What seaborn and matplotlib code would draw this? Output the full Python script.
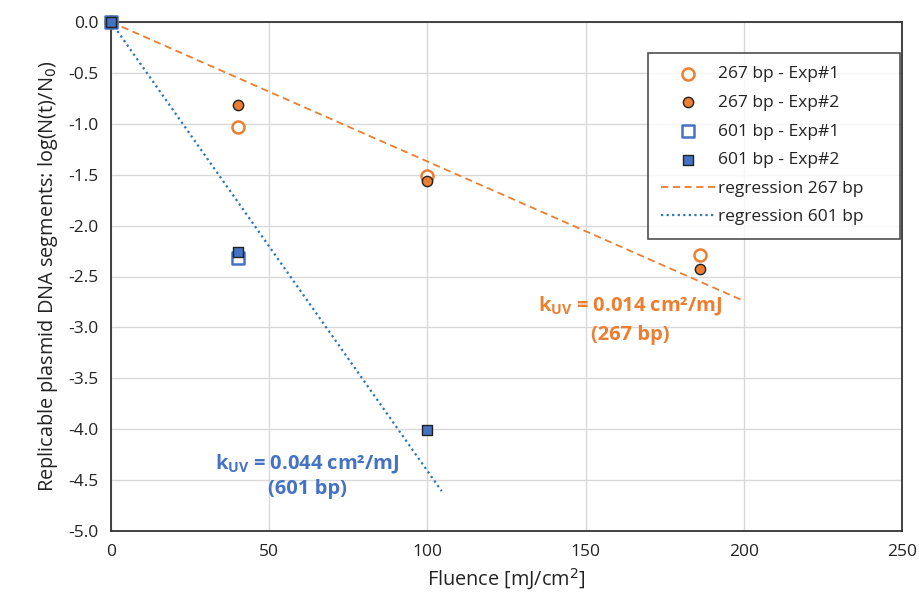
import numpy as np
import pandas as pd
import matplotlib
matplotlib.use("Agg")
import matplotlib.pyplot as plt
import seaborn as sns

# ---- data ----
fluence_267 = [0, 40, 100, 186]
exp1_267 = [0.0, -1.03, -1.51, -2.29]
exp2_267 = [0.0, -0.82, -1.56, -2.43]

fluence_601 = [0, 40, 100]
exp1_601 = [0.0, -2.32]
exp2_601 = [0.0, -2.26, -4.01]

k_267 = 0.0137
k_601 = 0.0441
reg_x_267 = [0, 200]
reg_x_601 = [0, 104.5]

x_ticks = [0, 50, 100, 150, 200, 250]
y_ticks = [0.0, -0.5, -1.0, -1.5, -2.0, -2.5, -3.0, -3.5, -4.0, -4.5, -5.0]

ORANGE = "#ED7D31"
BLUE = "#4472C4"
BLUE_LINE = "#2E75B6"

sns.set_theme(style="white")
plt.rcParams["font.family"] = ["Open Sans", "DejaVu Sans"]

fig = plt.figure(figsize=(9.19, 5.98), dpi=100)
ax = fig.add_axes([111/919, 1-531/598, (902-111)/919, (531-22)/598])

reg267 = pd.DataFrame({"x": reg_x_267, "y": [-k_267 * v for v in reg_x_267]})
reg601 = pd.DataFrame({"x": reg_x_601, "y": [-k_601 * v for v in reg_x_601]})

sns.lineplot(data=reg267, x="x", y="y", ax=ax, color=ORANGE, lw=1.3,
             linestyle=(0, (4, 2.5)), label="regression 267 bp", zorder=2)
sns.lineplot(data=reg601, x="x", y="y", ax=ax, color=BLUE_LINE, lw=1.6,
             linestyle=(0, (1, 1.5)), label="regression 601 bp", zorder=2)

sns.scatterplot(x=fluence_267, y=exp1_267, ax=ax, marker="o", s=75,
                facecolor="white", edgecolor=ORANGE, linewidth=1.8,
                label="267 bp - Exp#1", zorder=3, clip_on=False)
sns.scatterplot(x=fluence_267, y=exp2_267, ax=ax, marker="o", s=55,
                color=ORANGE, edgecolor="#222222", linewidth=1.0,
                label="267 bp - Exp#2", zorder=4, clip_on=False)
sns.scatterplot(x=fluence_601[:len(exp1_601)], y=exp1_601, ax=ax, marker="s", s=72,
                facecolor="white", edgecolor=BLUE, linewidth=1.8,
                label="601 bp - Exp#1", zorder=5, clip_on=False)
sns.scatterplot(x=fluence_601, y=exp2_601, ax=ax, marker="s", s=52,
                color=BLUE, edgecolor="#222222", linewidth=1.0,
                label="601 bp - Exp#2", zorder=6, clip_on=False)

ax.set_xlim(0, 250)
ax.set_ylim(-5.0, 0.0)
ax.set_xticks(x_ticks)
ax.set_yticks(y_ticks)
ax.set_xticklabels([str(t) for t in x_ticks])
ax.set_yticklabels([f"{t:.1f}" for t in y_ticks])
ax.tick_params(axis="both", labelsize=12.5, colors="#222222", length=0, pad=9)
ax.grid(True, color="#d9d9d9", lw=1.0)
ax.set_axisbelow(True)
for s in ax.spines.values():
    s.set_visible(True)
    s.set_color("#333333")
    s.set_linewidth(1.3)
    s.set_zorder(2.5)

ax.set_xlabel("Fluence [mJ/cm$^2$]", fontsize=14.3, color="#222222", labelpad=5)
ax.set_ylabel("Replicable plasmid DNA segments: log(N(t)/N$_0$)", fontsize=14.3,
              color="#222222", labelpad=6)

handles, labels = ax.get_legend_handles_labels()
order = ["267 bp - Exp#1", "267 bp - Exp#2", "601 bp - Exp#1", "601 bp - Exp#2",
         "regression 267 bp", "regression 601 bp"]
hmap = dict(zip(labels, handles))
leg = ax.legend([hmap[l] for l in order], order, loc="upper left",
                bbox_to_anchor=(0.679, 0.5, 0.3185, 0.439), mode="expand",
                fontsize=12.5, frameon=True,
                fancybox=False, edgecolor="#222222", labelspacing=0.72,
                handlelength=3.1, handletextpad=0.2, borderpad=0.75,
                borderaxespad=0, labelcolor="#222222")
leg.get_frame().set_linewidth(1.2)

ax.text(0.656, 0.415, "k$_{\\mathregular{UV}}$ = 0.014 cm²/mJ\n(267 bp)", transform=ax.transAxes,
        ha="center", va="center", color=ORANGE, fontsize=14.5, fontweight="bold",
        linespacing=1.45)
ax.text(0.248, 0.108, "k$_{\\mathregular{UV}}$ = 0.044 cm²/mJ\n(601 bp)", transform=ax.transAxes,
        ha="center", va="center", color=BLUE, fontsize=14.5, fontweight="bold",
        linespacing=1.25)

fig.savefig("out.png", dpi=100)
